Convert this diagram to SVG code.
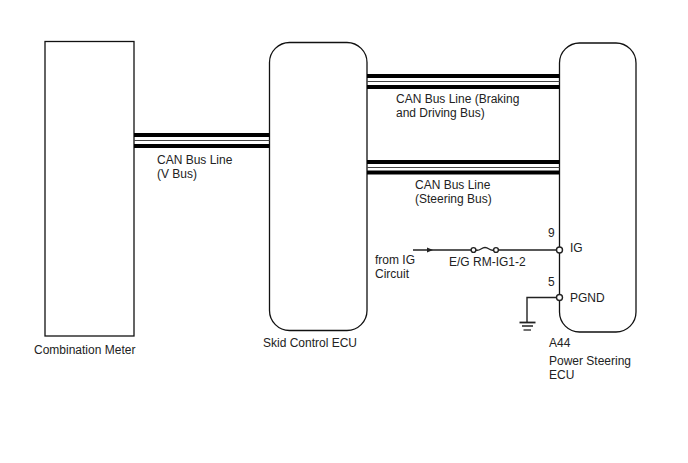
<svg xmlns="http://www.w3.org/2000/svg" width="688" height="463" viewBox="0 0 688 463">
<style>
text{font-family:"Liberation Sans",Arial,sans-serif;font-size:12px;fill:#222}
.box{fill:#fff;stroke:#111;stroke-width:1.3}
.wire{fill:none;stroke:#222;stroke-width:1.4}
.thick{stroke:#000;stroke-width:4;fill:none}
.thin{stroke:#444;stroke-width:1;fill:none}
.pin{fill:#fff;stroke:#222;stroke-width:1.4}
.earth{fill:none;stroke:#222}
</style>
<g id="combination-meter">
<rect class="box" x="45" y="41.500" width="89" height="294.500"/>
<text x="34" y="354">Combination Meter</text>
</g>
<g id="skid-control-ecu">
<rect class="box" x="269.500" y="42.500" width="97.500" height="288" rx="20" ry="20"/>
<text x="263" y="347">Skid Control ECU</text>
</g>
<g id="power-steering-ecu">
<rect class="box" x="559.500" y="43" width="76.500" height="289" rx="20" ry="20"/>
<text x="549" y="346.500">A44</text>
<text x="549" y="365">Power Steering</text>
<text x="549" y="379">ECU</text>
<text x="570" y="252">IG</text>
<text x="570" y="302">PGND</text>
<text x="548" y="236.500">9</text>
<text x="548" y="286">5</text>
</g>
<g id="connectors">
<path class="thick" d="M134 135H269.500M134 146H269.500"/>
<path class="thin" d="M134 140.500H269.500"/>
<path class="thick" d="M367 76H559.500M367 87H559.500"/>
<path class="thin" d="M367 81.500H559.500"/>
<path class="thick" d="M367 162H559.500M367 172.500H559.500"/>
<path class="thin" d="M367 167.500H559.500"/>
<path class="wire" d="M413 250H471.500M498 250H556.500"/>
<path d="M427 247.500L433 250L427 252.500Z" fill="#222"/>
<path class="wire" d="M475.500 250C480 251.500 481 247.500 485 247.500C489 247.500 490 251.500 494 250"/>
<circle class="pin" cx="473.500" cy="250" r="2.400"/>
<circle class="pin" cx="496" cy="250" r="2.400"/>
<circle class="pin" cx="559.500" cy="250" r="3"/>
<circle class="pin" cx="559.500" cy="297.500" r="3"/>
<path class="wire" d="M556.500 297.500H527V322"/>
<path class="earth" d="M519.500 322.500H535.500" stroke-width="1.800"/>
<path class="earth" d="M522 326H533" stroke-width="1.500"/>
<path class="earth" d="M523.500 330H531" stroke-width="1.300"/>
</g>
<g id="labels">
<text x="157" y="163.500">CAN Bus Line</text>
<text x="157" y="177.500">(V Bus)</text>
<text x="396" y="103">CAN Bus Line (Braking</text>
<text x="396" y="117">and Driving Bus)</text>
<text x="415" y="189">CAN Bus Line</text>
<text x="415" y="203">(Steering Bus)</text>
<text x="375" y="264">from IG</text>
<text x="375" y="278">Circuit</text>
<text x="449" y="266">E/G RM-IG1-2</text>
</g>
</svg>
